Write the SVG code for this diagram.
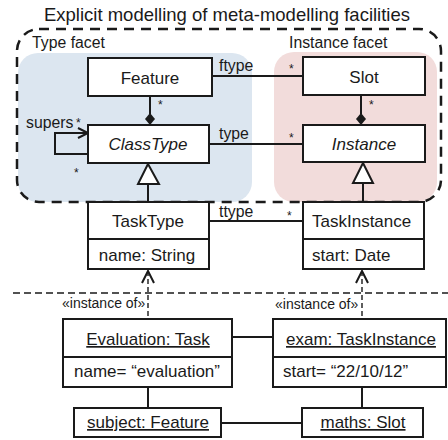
<svg xmlns="http://www.w3.org/2000/svg" width="448" height="440" viewBox="0 0 448 440">
<style>
text{font-family:"Liberation Sans",Arial,sans-serif;fill:#1a1a1a}
.box{fill:#fff;stroke:#1a1a1a;stroke-width:2}
.ln{fill:none;stroke:#1a1a1a;stroke-width:2}
.dl{fill:none;stroke:#1a1a1a;stroke-width:1.4;stroke-dasharray:5 3}
.t{font-size:17px}
.c{text-anchor:middle}
.i{font-style:italic}
.u{text-decoration:underline}
.lbl{font-size:15.8px}
.sm{font-size:14px}
.st{font-size:12px}
</style>
<rect width="448" height="440" fill="#fff"/>
<text x="227" y="21" class="c" font-size="18.5">Explicit modelling of meta-modelling facilities</text>
<g id="type-facet">
<rect x="18" y="53" width="234" height="149" rx="20" fill="#dce6f0"/>
<text x="32" y="48" class="lbl">Type facet</text>
</g>
<g id="instance-facet">
<rect x="274" y="52" width="163" height="150" rx="20" fill="#f2dcdb"/>
<text x="289" y="48" class="lbl">Instance facet</text>
</g>
<g id="container">
<path d="M39,29 H419 A22,22 0 0 1 441,51 V180 A22,22 0 0 1 419,202 H39 A22,22 0 0 1 17,180 V51 A22,22 0 0 1 39,29 Z" fill="none" stroke="#1a1a1a" stroke-width="2.5" stroke-dasharray="10 7"/>
</g>
<line x1="13" y1="293" x2="448" y2="293" stroke="#1a1a1a" stroke-width="1.4" stroke-dasharray="7 4"/>
<g id="connectors">
<line class="ln" x1="212" y1="76" x2="303" y2="76"/>
<text x="219" y="71" class="lbl">ftype</text>
<text x="289" y="73" class="st">*</text>
<line class="ln" x1="209" y1="144" x2="303" y2="144"/>
<text x="219" y="139" class="lbl">type</text>
<text x="289" y="142" class="st">*</text>
<line class="ln" x1="209" y1="221" x2="303" y2="221"/>
<text x="219" y="217" class="lbl">ttype</text>
<text x="287" y="220" class="st">*</text>
<line class="ln" x1="150" y1="96" x2="150" y2="114"/>
<polygon points="150,113 155,119 150,125 145,119" fill="#1a1a1a"/>
<text x="158" y="109" class="st">*</text>
<line class="ln" x1="361" y1="95" x2="361" y2="114"/>
<polygon points="361,113 366,119 361,125 356,119" fill="#1a1a1a"/>
<text x="369" y="109" class="st">*</text>
<line class="ln" x1="148" y1="184" x2="148" y2="202"/>
<polygon points="148,164 159,184 138,184" fill="#fff" stroke="#1a1a1a" stroke-width="2"/>
<line class="ln" x1="363" y1="183" x2="363" y2="202"/>
<polygon points="363,163 373,183 353,183" fill="#fff" stroke="#1a1a1a" stroke-width="2"/>
<polyline class="ln" points="88,154 55,154 55,133 88,133"/>
<polyline class="ln" points="78,128 88,133 78,138"/>
<text x="26" y="128" class="lbl">supers</text>
<text x="76" y="127" class="st">*</text>
<text x="74" y="177" class="st">*</text>
<line class="dl" x1="148" y1="271" x2="148" y2="319"/>
<polyline class="ln" stroke-width="1.5" points="142,283 148,271 154,283"/>
<text x="62" y="308" class="sm">«instance of»</text>
<line class="dl" x1="362" y1="271" x2="362" y2="319"/>
<polyline class="ln" stroke-width="1.5" points="356,283 362,271 368,283"/>
<text x="275" y="309" class="sm">«instance of»</text>
<line class="ln" x1="232" y1="337" x2="273" y2="337"/>
<line class="ln" x1="148" y1="387" x2="148" y2="408"/>
<line class="ln" x1="362" y1="387" x2="362" y2="408"/>
<line class="ln" x1="221" y1="423" x2="302" y2="423"/>
</g>
<g id="Feature">
<rect class="box" x="88" y="58" width="124" height="38"/>
<text x="150" y="84" class="t c">Feature</text>
</g>
<g id="Slot">
<rect class="box" x="303" y="57" width="122" height="38"/>
<text x="364" y="83" class="t c">Slot</text>
</g>
<g id="ClassType">
<rect class="box" x="88" y="125" width="121" height="38"/>
<text x="148" y="150" class="t c i">ClassType</text>
</g>
<g id="Instance">
<rect class="box" x="303" y="125" width="122" height="37"/>
<text x="364" y="150" class="t c i">Instance</text>
</g>
<g id="TaskType">
<rect class="box" x="88" y="202" width="121" height="67"/>
<line class="ln" x1="88" y1="239" x2="209" y2="239"/>
<text x="148" y="227" class="t c">TaskType</text>
<text x="147" y="261" class="t c">name: String</text>
</g>
<g id="TaskInstance">
<rect class="box" x="303" y="202" width="121" height="67"/>
<line class="ln" x1="303" y1="239" x2="424" y2="239"/>
<text x="312" y="227" class="t">TaskInstance</text>
<text x="312" y="261" class="t">start: Date</text>
</g>
<g id="Evaluation">
<rect class="box" x="63" y="319" width="169" height="68"/>
<line class="ln" x1="63" y1="357" x2="232" y2="357"/>
<text x="148" y="345" class="t c u">Evaluation: Task</text>
<text x="147" y="377" class="t c">name= “evaluation”</text>
</g>
<g id="exam">
<rect class="box" x="273" y="319" width="173" height="68"/>
<line class="ln" x1="273" y1="357" x2="446" y2="357"/>
<text x="286" y="345" class="t u">exam: TaskInstance</text>
<text x="283" y="377" class="t">start= “22/10/12”</text>
</g>
<g id="subject">
<rect class="box" x="74" y="408" width="147" height="29"/>
<text x="148" y="428" class="t c u">subject: Feature</text>
</g>
<g id="maths">
<rect class="box" x="302" y="408" width="121" height="29"/>
<text x="363" y="428" class="t c u">maths: Slot</text>
</g>
</svg>
